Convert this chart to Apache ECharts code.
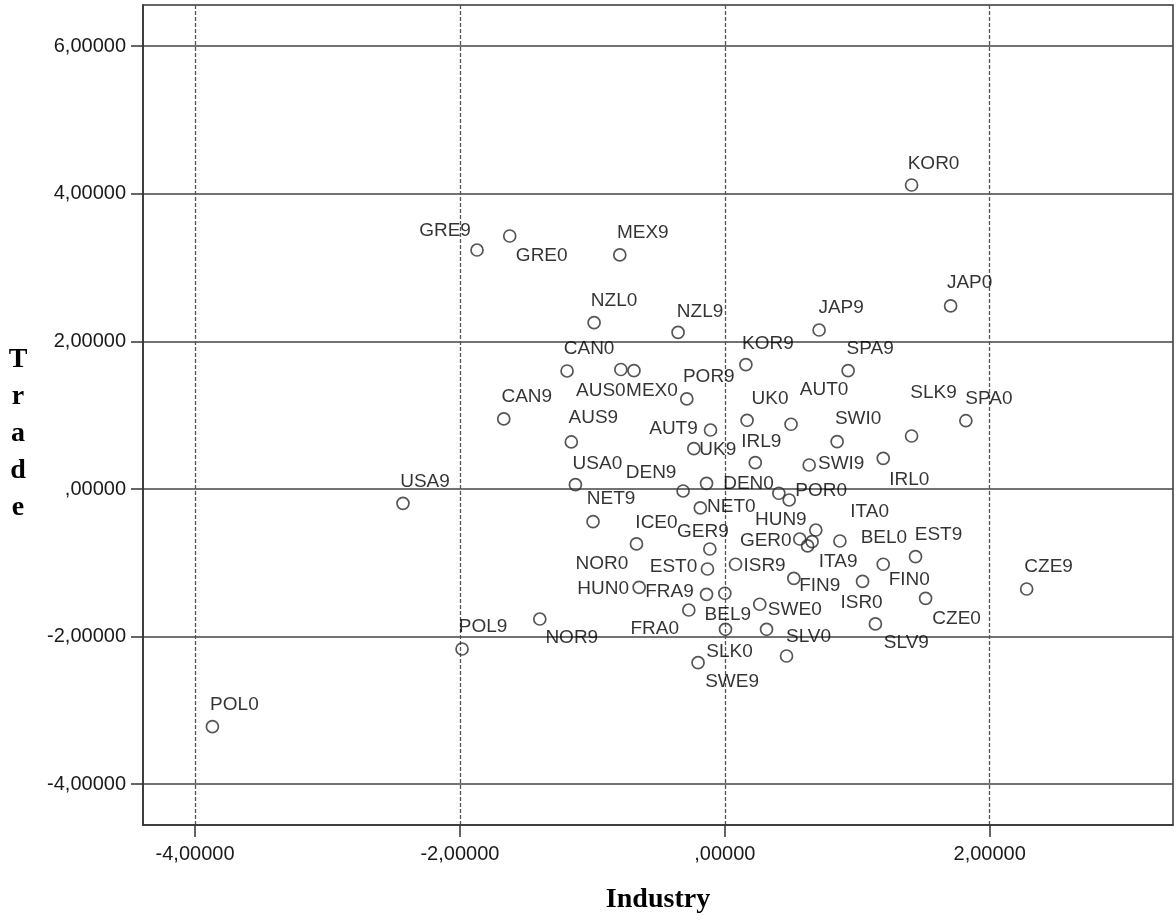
<!DOCTYPE html>
<html>
<head>
<meta charset="utf-8">
<title>Industry vs Trade</title>
<script src="https://cdn.jsdelivr.net/npm/echarts@6/dist/echarts.min.js"></script>
<style>
  html, body { margin: 0; padding: 0; background: #ffffff; }
  #chart { width: 1176px; height: 921px; }
</style>
</head>
<body>
<div id="chart"></div>
<script>
// Country-year cases (0 = 2000, 9 = 1990) and their factor scores
const names = [
  'POL0','POL9','USA9','USA0','CAN9','CAN0','GRE9','GRE0','MEX9','MEX0',
  'NZL0','NZL9','KOR0','KOR9','JAP0','JAP9','AUS0','AUS9','POR9','POR0',
  'SPA9','SPA0','UK0','UK9','AUT0','AUT9','SLK9','SLK0','SWI0','SWI9',
  'IRL9','IRL0','DEN9','DEN0','NOR0','NET0','NET9','ICE0','ICE9','GER9',
  'GER0','EST0','EST9','ISR9','ISR0','HUN0','HUN9','FRA9','FRA0','BEL9',
  'BEL0','SWE0','SWE9','SLV0','SLV9','FIN9','FIN0','CZE0','CZE9','NOR9',
  'ITA9','ITA0'
];
const industry = [
  -3.869, -1.984, -2.430, -1.128, -1.669, -1.191, -1.871, -1.624, -0.793, -0.686,
  -0.987, -0.353,  1.410,  0.159,  1.705,  0.712, -0.785, -1.159, -0.287,  0.486,
   0.931,  1.820,  0.168, -0.234,  0.500, -0.108,  1.410,  0.005,  0.848,  0.637,
   0.230,  1.196, -0.315, -0.138,  0.408, -0.185, -0.995, -0.667,  0.466, -0.113,
   0.566, -0.131,  1.440,  0.081,  1.040, -0.647,  0.687, -0.138, -0.272,  0.000,
   0.869,  0.264, -0.202,  0.315,  1.137,  0.521,  1.196,  1.516,  2.279, -1.397,
   0.659,  0.625
];
const trade = [
  -3.221, -2.168, -0.194,  0.058,  0.949,  1.599,  3.238,  3.428,  3.171,  1.603,
   2.253,  2.121,  4.119,  1.684,  2.480,  2.154,  1.619,  0.637,  1.220, -0.149,
   1.603,  0.925,  0.931,  0.546,  0.877,  0.799,  0.718, -1.901,  0.641,  0.325,
   0.356,  0.416, -0.027,  0.077, -0.058, -0.257, -0.443, -0.745, -2.263, -0.813,
  -0.678, -1.084, -0.917, -1.020, -1.253, -1.332, -0.556, -1.427, -1.640, -1.413,
  -0.705, -1.562, -2.354, -1.901, -1.829, -1.210, -1.020, -1.481, -1.355, -1.762,
  -0.714, -0.772
];
const xTicks = [-4, -2, 0, 2];
const yTicks = [-4, -2, 0, 2, 4, 6];
const unlabeled = ['ICE9'];

// Where each case label sits relative to its marker (pixels, label centre)
const labelOffsets = {
  POL0: [22, -22], POL9: [21, -22], USA9: [22, -22], USA0: [22, -21], CAN9: [23, -22],
  CAN0: [22, -22], GRE9: [-32, -19], GRE0: [32, 20], MEX9: [23, -22], MEX0: [18, 20],
  NZL0: [20, -22], NZL9: [22, -21], KOR0: [22, -21], KOR9: [22, -21], JAP0: [19, -23],
  JAP9: [22, -22], AUS0: [-20, 21], AUS9: [22, -24], POR9: [22, -22], POR0: [32, -9],
  SPA9: [22, -22], SPA0: [23, -22], UK0: [23, -22], UK9: [24, 1], AUT0: [33, -34],
  AUT9: [-37, -1], SLK9: [22, -43], SLK0: [4, 22], SWI0: [21, -23], SWI9: [32, -1],
  IRL9: [6, -21], IRL0: [26, 21], DEN9: [-32, -18], DEN0: [42, 0], NOR0: [-177, 70],
  NET0: [31, -1], NET9: [18, -23], ICE0: [20, -21], GER9: [-7, -17], GER0: [-34, 2],
  EST0: [-34, -2], EST9: [23, -22], ISR9: [29, 2], ISR0: [-1, 21], HUN0: [-36, 1],
  HUN9: [-35, -10], FRA9: [-37, -3], FRA0: [-34, 19], BEL9: [3, 21], BEL0: [44, -3],
  SWE0: [35, 6], SWE9: [34, 19], SLV0: [42, 7], SLV9: [31, 19], FIN9: [26, 7],
  FIN0: [26, 16], CZE0: [31, 20], CZE9: [22, -22], NOR9: [32, 19], ITA9: [26, 20],
  ITA0: [62, -34]
};

// Decimal comma, five places, no leading zero below one
function fmt(v) {
  const s = Math.abs(v).toFixed(5).replace('.', ',');
  return (v < 0 ? '-' : '') + (Math.abs(v) < 1 ? s.slice(1) : s);
}

const points = names.map((n, i) => ({
  name: n,
  value: [industry[i], trade[i]],
  label: unlabeled.includes(n)
    ? { show: false }
    : { show: true, offset: labelOffsets[n] || [22, -22] }
}));

const sans = '"Liberation Sans", Arial, Helvetica, sans-serif';
const serif = '"Liberation Serif", "Times New Roman", serif';

const chart = echarts.init(document.getElementById('chart'), null, { renderer: 'canvas' });
chart.setOption({
  animation: false,
  backgroundColor: '#ffffff',
  grid: {
    left: 143, right: 3, top: 5, bottom: 96,
    show: true, borderColor: '#333', borderWidth: 1.5, backgroundColor: 'transparent'
  },
  xAxis: {
    type: 'value',
    min: -4.393, max: 3.384,
    name: 'Industry',
    nameLocation: 'middle',
    nameGap: 61,
    nameTextStyle: { fontFamily: serif, fontWeight: 'bold', fontSize: 28, color: '#000' },
    axisLine: { show: true, onZero: false, lineStyle: { color: '#333', width: 1.5 } },
    axisTick: { show: true, inside: false, length: 12, customValues: xTicks,
      lineStyle: { color: '#333', width: 1.5 } },
    axisLabel: { customValues: xTicks, formatter: fmt, margin: 19,
      fontFamily: sans, fontSize: 20, color: '#1a1a1a' },
    splitLine: { show: true, lineStyle: { color: '#555', width: 1.3, type: [4, 2] } }
  },
  yAxis: {
    type: 'value',
    min: -4.553, max: 6.558,
    // leading blank line drops the stacked letters a little below centre
    name: '\nT\nr\na\nd\ne',
    nameLocation: 'middle',
    nameRotate: 0,
    nameGap: 125,
    nameTextStyle: { fontFamily: serif, fontWeight: 'bold', fontSize: 28, color: '#000',
      align: 'center', verticalAlign: 'middle', lineHeight: 37 },
    axisLine: { show: true, onZero: false, lineStyle: { color: '#333', width: 1.5 } },
    axisTick: { show: true, inside: false, length: 12, customValues: yTicks,
      lineStyle: { color: '#333', width: 1.5 } },
    axisLabel: { customValues: yTicks, formatter: fmt, margin: 17,
      fontFamily: sans, fontSize: 20, color: '#1a1a1a' },
    splitLine: { show: true, lineStyle: { color: '#444', width: 1.6, type: 'solid' } }
  },
  series: [{
    type: 'scatter',
    symbol: 'circle',
    symbolSize: 12,
    itemStyle: { color: 'rgba(255,255,255,0)', borderColor: '#2a2a2a', borderWidth: 1.7 },
    label: {
      show: true,
      position: 'inside',
      formatter: '{b}',
      fontFamily: sans,
      fontSize: 19,
      color: '#000'
    },
    emphasis: { disabled: true },
    data: points
  }]
});
</script>
</body>
</html>
